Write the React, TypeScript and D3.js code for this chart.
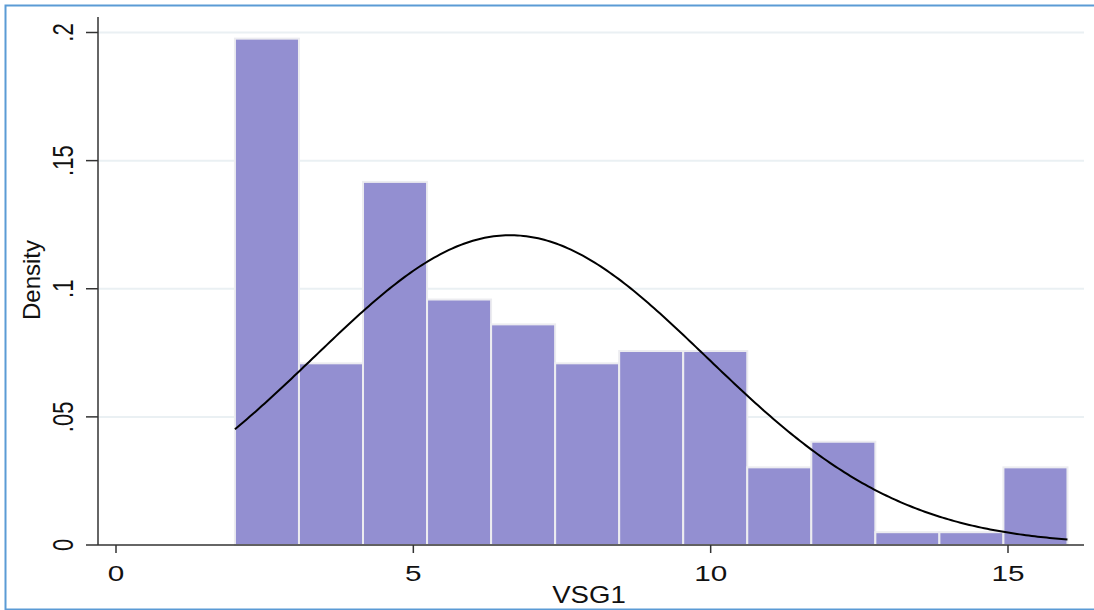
import React from "react";
import * as d3 from "d3";

// histogram of VSG1, 13 bins from 2 to 16, density scale
const binStart = 2;
const binEnd = 16;
const densities = [
  0.1976, 0.0709, 0.1417, 0.0958, 0.0861, 0.0709, 0.0757, 0.0757, 0.0303,
  0.0403, 0.0050, 0.0050, 0.0303,
];
// fitted normal overlay
const normalMean = 6.63;
const normalSd = 3.3;

const xTicks = [0, 5, 10, 15];
const yTicks = [0, 0.05, 0.1, 0.15, 0.2];
const yTickLabels = ["0", ".05", ".1", ".15", ".2"];

const App: React.FC = () => {
  const svgRef = React.useRef<SVGSVGElement | null>(null);

  React.useEffect(() => {
    if (!svgRef.current) return;
    const svg = d3.select(svgRef.current);
    svg.selectAll("*").remove();

    const left = 98;
    const right = 1084;
    const top = 17;
    const bottom = 545;

    const x = d3.scaleLinear().domain([0, 15]).range([116, 1008]);
    const y = d3.scaleLinear().domain([0, 0.2]).range([bottom, 32.5]);

    // frame
    svg
      .append("rect")
      .attr("x", 5.5)
      .attr("y", 5.5)
      .attr("width", 1100)
      .attr("height", 604)
      .attr("fill", "white")
      .attr("stroke", "#5b9bd5")
      .attr("stroke-width", 2);

    // grid
    svg
      .append("g")
      .selectAll("line")
      .data(yTicks.filter((t) => t > 0))
      .join("line")
      .attr("x1", left)
      .attr("x2", right)
      .attr("y1", (d) => y(d))
      .attr("y2", (d) => y(d))
      .attr("stroke", "#eaf0f3")
      .attr("stroke-width", 2);

    // bars
    const w = (binEnd - binStart) / densities.length;
    svg
      .append("g")
      .selectAll("rect")
      .data(densities)
      .join("rect")
      .attr("x", (d, i) => x(binStart + i * w))
      .attr("y", (d) => y(d))
      .attr("width", (d, i) => x(binStart + (i + 1) * w) - x(binStart + i * w))
      .attr("height", (d) => bottom - y(d))
      .attr("fill", "#938fd1")
      .attr("stroke", "#ececf0")
      .attr("stroke-width", 2);

    // normal curve
    const pts = d3.range(binStart, binEnd + 0.001, 0.05).map((v) => [
      v,
      Math.exp(-0.5 * ((v - normalMean) / normalSd) ** 2) /
        (normalSd * Math.sqrt(2 * Math.PI)),
    ]);
    const line = d3
      .line<number[]>()
      .x((d) => x(d[0]))
      .y((d) => y(d[1]));
    svg
      .append("path")
      .datum(pts)
      .attr("d", line)
      .attr("fill", "none")
      .attr("stroke", "black")
      .attr("stroke-width", 2);

    // axes
    const axisColor = "#333";
    svg
      .append("line")
      .attr("x1", left)
      .attr("x2", left)
      .attr("y1", top)
      .attr("y2", bottom)
      .attr("stroke", axisColor)
      .attr("stroke-width", 1.5);
    svg
      .append("line")
      .attr("x1", left)
      .attr("x2", right)
      .attr("y1", bottom)
      .attr("y2", bottom)
      .attr("stroke", axisColor)
      .attr("stroke-width", 1.5);

    const font = "Liberation Sans, Arial, sans-serif";

    // y ticks + labels
    const yt = svg.append("g");
    yTicks.forEach((t, i) => {
      yt.append("line")
        .attr("x1", 86)
        .attr("x2", left)
        .attr("y1", y(t))
        .attr("y2", y(t))
        .attr("stroke", axisColor)
        .attr("stroke-width", 1.5);
      yt.append("text")
        .attr("transform", `translate(73, ${y(t)}) scale(1.37, 1) rotate(-90)`)
        .attr("text-anchor", "middle")
        .attr("font-family", font)
        .attr("font-size", 22)
        .attr("fill", "#111")
        .text(yTickLabels[i]);
    });

    // x ticks + labels
    const xt = svg.append("g");
    xTicks.forEach((t) => {
      xt.append("line")
        .attr("x1", x(t))
        .attr("x2", x(t))
        .attr("y1", bottom)
        .attr("y2", 553)
        .attr("stroke", axisColor)
        .attr("stroke-width", 1.5);
      xt.append("text")
        .attr("transform", `translate(${x(t)}, 581) scale(1.35, 1)`)
        .attr("text-anchor", "middle")
        .attr("font-family", font)
        .attr("font-size", 22)
        .attr("fill", "#111")
        .text(String(t));
    });

    // titles
    svg
      .append("text")
      .attr("transform", `translate(589, 603) scale(1.15, 1)`)
      .attr("text-anchor", "middle")
      .attr("font-family", font)
      .attr("font-size", 24)
      .attr("fill", "#111")
      .text("VSG1");
    svg
      .append("text")
      .attr("transform", `translate(40, 280) rotate(-90)`)
      .attr("text-anchor", "middle")
      .attr("font-family", font)
      .attr("font-size", 24)
      .attr("fill", "#111")
      .text("Density");
  }, []);

  return (
    <svg
      ref={svgRef}
      width={1094}
      height={610}
      style={{ position: "absolute", left: 0, top: 0 }}
    ></svg>
  );
};

export default App;
